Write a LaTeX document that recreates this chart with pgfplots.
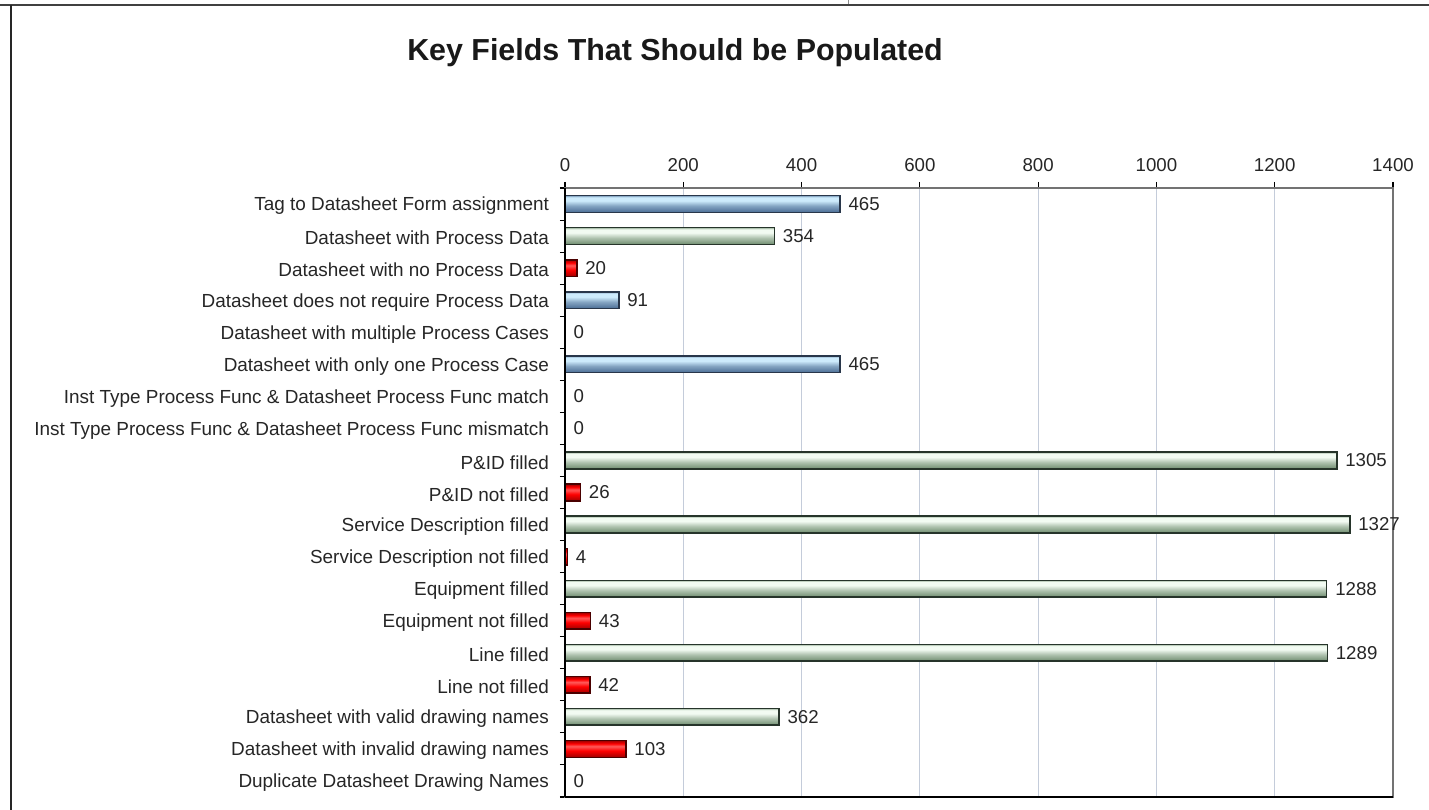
\documentclass[border=0pt]{standalone}
\usepackage{fontspec}
\setmainfont{Liberation Sans}
\usepackage{pgfplots}
\pgfplotsset{compat=1.18}

\definecolor{bluelight}{HTML}{CDEBFC}
\definecolor{bluedark}{HTML}{4A6C94}
\definecolor{blueedge}{HTML}{28364A}
\definecolor{greenlight}{HTML}{F2FBF2}
\definecolor{greendark}{HTML}{6E8C6E}
\definecolor{greenedge}{HTML}{26342A}
\definecolor{redlight}{HTML}{FF5A5A}
\definecolor{reddark}{HTML}{A00000}
\definecolor{rededge}{HTML}{4A0000}
\definecolor{gridc}{HTML}{C4CCDA}

\pgfdeclareverticalshading{bluesh}{100bp}{color(0bp)=(bluedark); color(25bp)=(bluedark); color(45bp)=(bluedark!55!bluelight); color(60bp)=(bluelight); color(70bp)=(bluelight); color(75bp)=(bluedark!60!bluelight); color(100bp)=(bluedark)}
\pgfdeclareverticalshading{greensh}{100bp}{color(0bp)=(greendark); color(25bp)=(greendark); color(45bp)=(greendark!50!greenlight); color(60bp)=(greenlight); color(70bp)=(greenlight); color(75bp)=(greendark!60!greenlight); color(100bp)=(greendark)}
\pgfdeclareverticalshading{redsh}{100bp}{color(0bp)=(reddark); color(25bp)=(reddark); color(45bp)=(red); color(58bp)=(redlight); color(66bp)=(red); color(75bp)=(reddark); color(100bp)=(reddark)}

\pgfplotsset{
  bluebar/.style={draw=blueedge, line width=1.1pt, shading=bluesh},
  greenbar/.style={draw=greenedge, line width=1.1pt, shading=greensh},
  redbar/.style={draw=rededge, line width=1.1pt, shading=redsh},
}

\begin{document}
\begin{tikzpicture}
\begin{scope}[x=0.75pt,y=0.75pt]
\path[use as bounding box] (0,0) rectangle (1429,810);
\draw[line width=2.2pt, black!75] (0,805) -- (1429,805);
\draw[line width=1.5pt, black!85] (11,805) -- (11,0);
\draw[line width=0.75pt, black!45] (848,810) -- (848,806);
\node[font=\fontsize{22.8}{26}\selectfont\bfseries, text=black!90] at (675,757) {Key Fields That Should be Populated};
\end{scope}
\begin{axis}[
  at={(423.75pt,9.75pt)}, anchor=south west, scale only axis,
  width=621pt, height=456.75pt,
  xmin=0, xmax=1400, ymin=-0.5, ymax=18.5, y dir=reverse,
  clip=false,
  axis line style={draw=black!55, line width=1pt},
  xtick={0,200,...,1400}, xtick pos=right, xticklabel pos=right,
  /pgf/number format/assume math mode=true,
  /pgf/number format/1000 sep={},
  xticklabel style={font=\fontsize{14}{16}\selectfont, text=black!85, yshift=4pt},
  ytick={0,...,18}, ytick pos=left,
  minor ytick={-0.5,0.5,...,18.5},
  tick align=outside,
  major tick length=4.5pt, minor tick length=3.75pt,
  major y tick style={draw=none},
  tick style={black, line width=0.8pt},
  xmajorgrids, grid style={gridc, line width=0.75pt},
  yticklabel style={font=\fontsize{14.2}{16}\selectfont, text=black!85, xshift=-4pt, yshift=-1.5pt},
  yticklabels={Tag to Datasheet Form assignment, Datasheet with Process Data, Datasheet with no Process Data, Datasheet does not require Process Data, Datasheet with multiple Process Cases, Datasheet with only one Process Case, Inst Type Process Func \& Datasheet Process Func match, Inst Type Process Func \& Datasheet Process Func mismatch, P\&ID filled, P\&ID not filled, Service Description filled, Service Description not filled, Equipment filled, Equipment not filled, Line filled, Line not filled, Datasheet with valid drawing names, Datasheet with invalid drawing names, Duplicate Datasheet Drawing Names},
  xbar, bar width=12.5pt, bar shift=0pt,
  nodes near coords,
  every node near coord/.append style={font=\fontsize{14}{16}\selectfont, text=black!85, anchor=west, xshift=2.5pt},
]
\addplot[bluebar] coordinates {(465,0)};
\addplot[greenbar] coordinates {(354,1)};
\addplot[redbar] coordinates {(20,2)};
\addplot[bluebar] coordinates {(91,3)};
\addplot[bluebar] coordinates {(0,4)};
\addplot[bluebar] coordinates {(465,5)};
\addplot[greenbar] coordinates {(0,6)};
\addplot[redbar] coordinates {(0,7)};
\addplot[greenbar] coordinates {(1305,8)};
\addplot[redbar] coordinates {(26,9)};
\addplot[greenbar] coordinates {(1327,10)};
\addplot[redbar] coordinates {(4,11)};
\addplot[greenbar] coordinates {(1288,12)};
\addplot[redbar] coordinates {(43,13)};
\addplot[greenbar] coordinates {(1289,14)};
\addplot[redbar] coordinates {(42,15)};
\addplot[greenbar] coordinates {(362,16)};
\addplot[redbar] coordinates {(103,17)};
\addplot[greenbar] coordinates {(0,18)};
\draw[black, line width=1.2pt] (rel axis cs:0,0) -- (rel axis cs:0,1);
\draw[black, line width=1.2pt] (rel axis cs:0,0) -- (rel axis cs:1,0);
\end{axis}
\end{tikzpicture}
\end{document}
